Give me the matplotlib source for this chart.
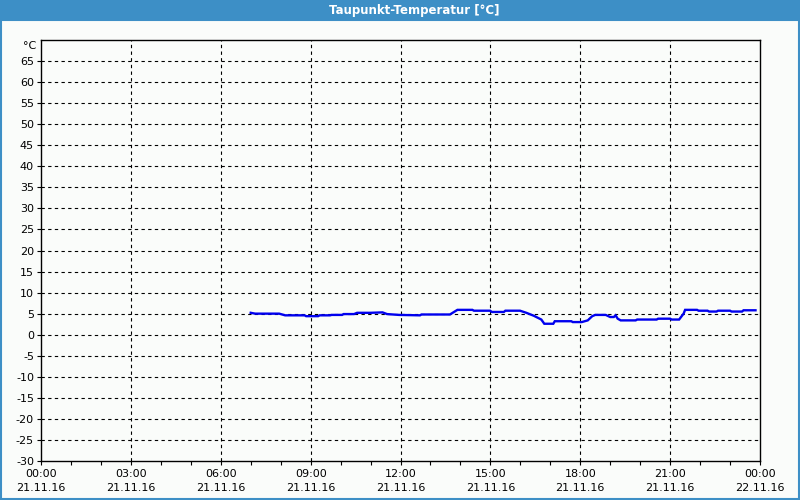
import matplotlib
matplotlib.use("Agg")
import matplotlib.pyplot as plt
from matplotlib.patches import Rectangle

# dew point readings, hours since 21.11.16 00:00
hours = [7.0, 7.15, 7.95, 8.15, 8.8, 8.85, 9.25, 9.3, 9.65, 9.7, 10.05, 10.1,
         10.45, 10.55, 11.0, 11.4, 11.55, 11.95, 12.65, 12.7, 13.65, 13.9,
         14.4, 14.45, 14.99, 15.05, 15.45, 15.5, 15.99, 16.2, 16.45, 16.7,
         16.8, 17.1, 17.15, 17.7, 17.75, 18.05, 18.25, 18.4, 18.5, 18.85,
         19.0, 19.12, 19.18, 19.25, 19.35, 19.85, 19.9, 20.55, 20.6, 21.0,
         21.05, 21.3, 21.45, 21.5, 21.9, 21.95, 22.25, 22.3, 22.55, 22.6,
         23.0, 23.05, 23.4, 23.45, 23.85]
dewpoint = [5.2, 5.0, 5.0, 4.6, 4.6, 4.4, 4.4, 4.6, 4.6, 4.7, 4.7, 4.9,
            4.9, 5.2, 5.2, 5.3, 4.9, 4.7, 4.6, 4.8, 4.8, 5.9,
            5.9, 5.7, 5.7, 5.4, 5.4, 5.7, 5.7, 5.2, 4.5, 3.6,
            2.6, 2.6, 3.2, 3.2, 3.0, 3.0, 3.4, 4.4, 4.7, 4.7,
            4.2, 4.2, 4.6, 3.8, 3.4, 3.4, 3.6, 3.6, 3.8, 3.8,
            3.6, 3.6, 5.0, 5.9, 5.9, 5.7, 5.7, 5.5, 5.5, 5.7,
            5.7, 5.5, 5.5, 5.8, 5.8]

x_major = [0, 3, 6, 9, 12, 15, 18, 21, 24]
x_labels = ["00:00\n21.11.16", "03:00\n21.11.16", "06:00\n21.11.16",
            "09:00\n21.11.16", "12:00\n21.11.16", "15:00\n21.11.16",
            "18:00\n21.11.16", "21:00\n21.11.16", "00:00\n22.11.16"]
y_ticks = list(range(-30, 70, 5))
title = "Taupunkt-Temperatur [°C]"

bg = "#fafcfa"
blue_bar = "#3d8fc6"

fig = plt.figure(figsize=(8, 5), dpi=100, facecolor=bg)
ax = fig.add_axes([41 / 800, 39 / 500, 719 / 800, 421 / 500])
ax.set_facecolor(bg)

ax.plot(hours, dewpoint, color="#0000ee", lw=1.7, solid_joinstyle="miter")

ax.set_xlim(0, 24)
ax.set_ylim(-30, 70)

ax.set_xticks(x_major)
ax.set_xticklabels(x_labels, linespacing=1.45)
ax.set_xticks(range(0, 25), minor=True)
ax.set_yticks(y_ticks)
ax.set_yticklabels([str(v) for v in y_ticks])

ax.tick_params(axis="both", which="both", direction="out", length=3,
               width=0.8, color="black", labelsize=8, labelcolor="black")
ax.tick_params(axis="x", pad=3)
ax.tick_params(axis="y", pad=2)

for v in range(-25, 70, 5):
    ax.axhline(v, color="black", lw=0.8, ls=(0, (3, 3)), zorder=0)
for h in range(3, 24, 3):
    ax.axvline(h, color="black", lw=0.8, ls=(0, (3, 3)), zorder=0)

for s in ax.spines.values():
    s.set_linewidth(1.0)
    s.set_color("black")

ax.text(-0.15, 68.6, "°C", ha="right", va="center", fontsize=8)

# window chrome: title bar and border
fig.patches.append(Rectangle((0, 1 - 21 / 500), 1, 21 / 500, transform=fig.transFigure,
                             facecolor=blue_bar, edgecolor="none", zorder=0))
fig.patches.append(Rectangle((0.5 / 800, 1 / 500), 798.5 / 800, 1 - 21 / 500,
                             transform=fig.transFigure, facecolor="none",
                             edgecolor=blue_bar, lw=1.5, zorder=0))
fig.text(414 / 800, 1 - 10.5 / 500, title, color="white", fontsize=8.5,
         fontweight="bold", ha="center", va="center")

fig.savefig("out.png", dpi=100, facecolor=bg)
